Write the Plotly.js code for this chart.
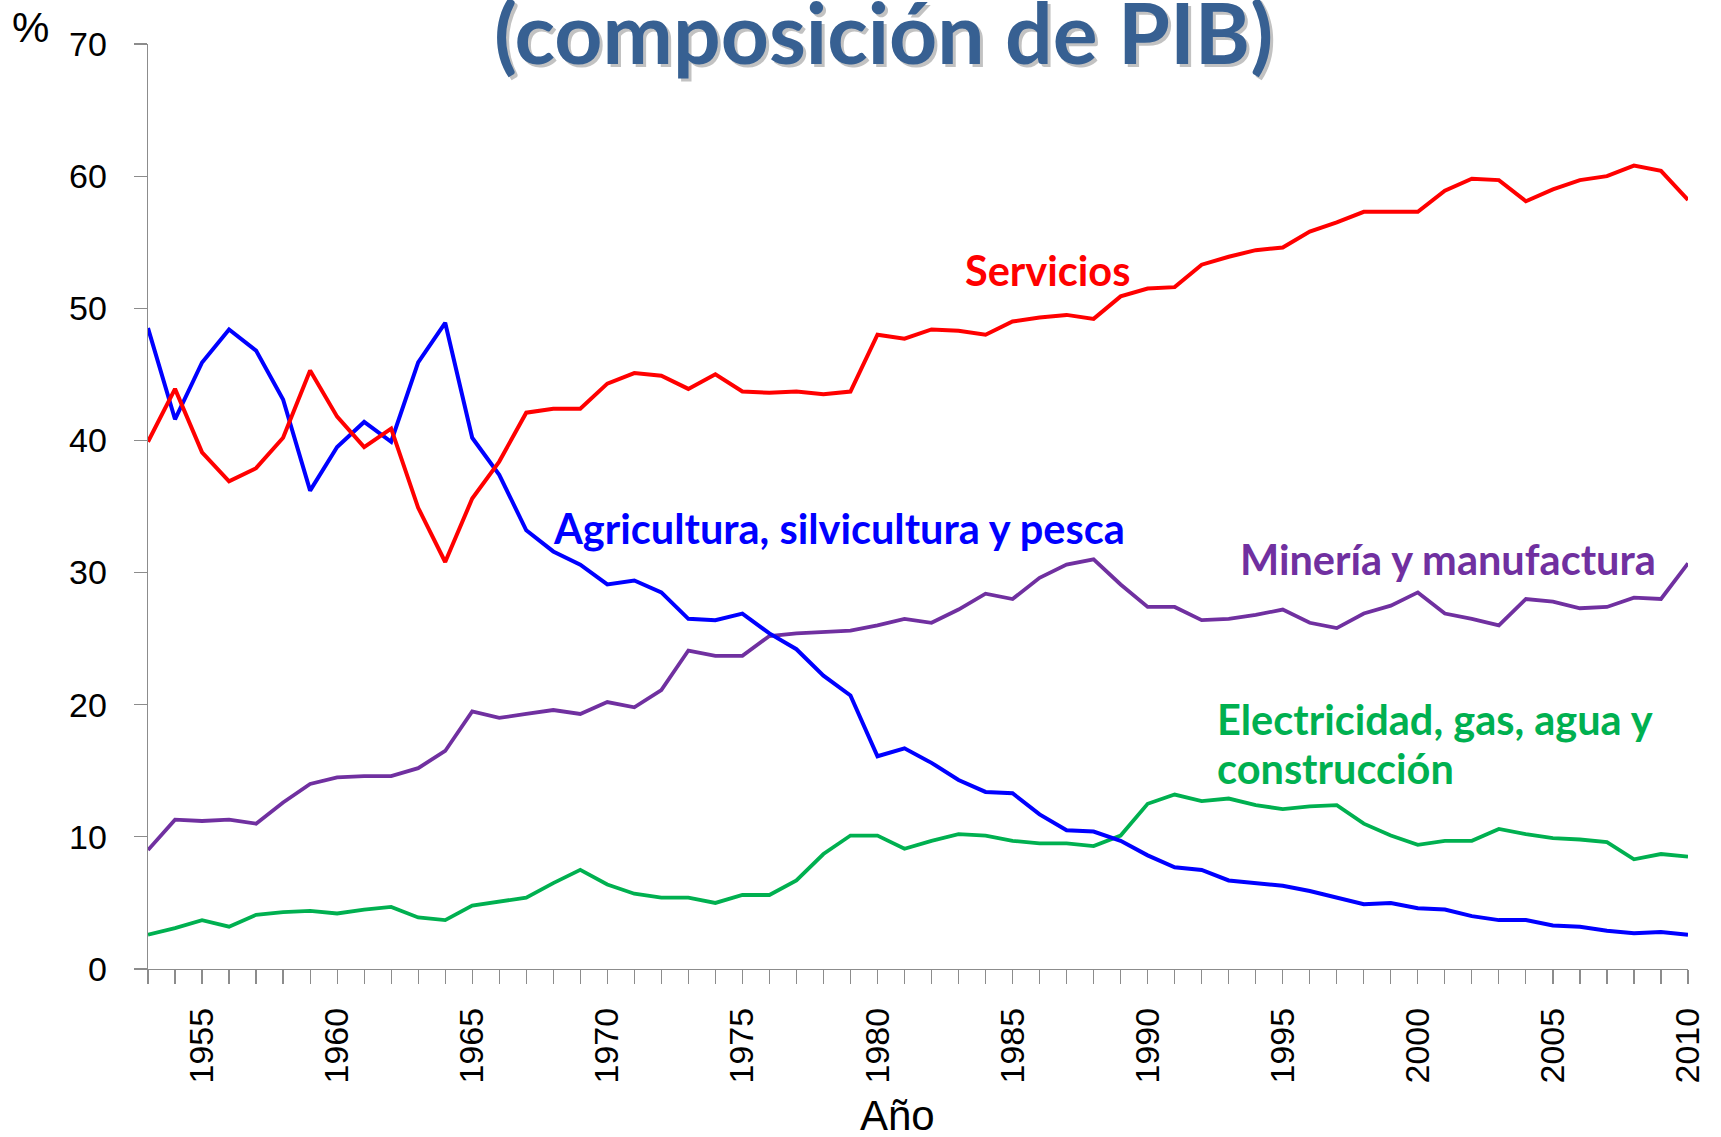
<!DOCTYPE html>
<html>
<head>
<meta charset="utf-8">
<script src="https://cdn.plot.ly/plotly-3.0.1.min.js"></script>
<style>html,body{margin:0;padding:0;background:#fff;}#chart{width:1721px;height:1137px;}</style>
</head>
<body>
<div id="chart"></div>
<script>
const years = [1953,1954,1955,1956,1957,1958,1959,1960,1961,1962,1963,1964,1965,1966,1967,1968,1969,1970,1971,1972,1973,1974,1975,1976,1977,1978,1979,1980,1981,1982,1983,1984,1985,1986,1987,1988,1989,1990,1991,1992,1993,1994,1995,1996,1997,1998,1999,2000,2001,2002,2003,2004,2005,2006,2007,2008,2009,2010];

const agricultura = [48.5,41.6,45.9,48.4,46.8,43.1,36.2,39.5,41.4,39.9,45.9,48.9,40.2,37.4,33.2,31.6,30.6,29.1,29.4,28.5,26.5,26.4,26.9,25.4,24.2,22.2,20.7,16.1,16.7,15.6,14.3,13.4,13.3,11.7,10.5,10.4,9.7,8.6,7.7,7.5,6.7,6.5,6.3,5.9,5.4,4.9,5.0,4.6,4.5,4.0,3.7,3.7,3.3,3.2,2.9,2.7,2.8,2.6];

const servicios = [39.9,43.9,39.1,36.9,37.9,40.2,45.3,41.8,39.5,40.9,34.9,30.8,35.6,38.4,42.1,42.4,42.4,44.3,45.1,44.9,43.9,45.0,43.7,43.6,43.7,43.5,43.7,48.0,47.7,48.4,48.3,48.0,49.0,49.3,49.5,49.2,50.9,51.5,51.6,53.3,53.9,54.4,54.6,55.8,56.5,57.3,57.3,57.3,58.9,59.8,59.7,58.1,59.0,59.7,60.0,60.8,60.4,58.2];

const mineria = [9.0,11.3,11.2,11.3,11.0,12.6,14.0,14.5,14.6,14.6,15.2,16.5,19.5,19.0,19.3,19.6,19.3,20.2,19.8,21.1,24.1,23.7,23.7,25.2,25.4,25.5,25.6,26.0,26.5,26.2,27.2,28.4,28.0,29.6,30.6,31.0,29.1,27.4,27.4,26.4,26.5,26.8,27.2,26.2,25.8,26.9,27.5,28.5,26.9,26.5,26.0,28.0,27.8,27.3,27.4,28.1,28.0,30.7];

const electricidad = [2.6,3.1,3.7,3.2,4.1,4.3,4.4,4.2,4.5,4.7,3.9,3.7,4.8,5.1,5.4,6.5,7.5,6.4,5.7,5.4,5.4,5.0,5.6,5.6,6.7,8.7,10.1,10.1,9.1,9.7,10.2,10.1,9.7,9.5,9.5,9.3,10.1,12.5,13.2,12.7,12.9,12.4,12.1,12.3,12.4,11.0,10.1,9.4,9.7,9.7,10.6,10.2,9.9,9.8,9.6,8.3,8.7,8.5];

const seriesNames = ["Agricultura, silvicultura y pesca","Servicios","Minería y manufactura","Electricidad, gas, agua y construcción"];
const titleText = "(composición de PIB)";
const yAxisLabel = "%";
const xAxisLabel = "Año";

const RED = "#FF0000", BLUE = "#0000FF", PURPLE = "#7030A0", GREEN = "#00B050";
const AXIS = "#8c8c8c";

const traces = [
  {x: years, y: electricidad, name: seriesNames[3], type: "scatter", mode: "lines", line: {color: GREEN, width: 3.8}},
  {x: years, y: mineria, name: seriesNames[2], type: "scatter", mode: "lines", line: {color: PURPLE, width: 3.8}},
  {x: years, y: agricultura, name: seriesNames[0], type: "scatter", mode: "lines", line: {color: BLUE, width: 4}},
  {x: years, y: servicios, name: seriesNames[1], type: "scatter", mode: "lines", line: {color: RED, width: 4}}
];

const labelFont = "Lato, 'Open Sans', sans-serif";
const tickFont = {family: "'Liberation Sans', Arial, sans-serif", size: 34, color: "#000"};
const LS = 41.5;

const layout = {
  width: 1721, height: 1137,
  paper_bgcolor: "#fff", plot_bgcolor: "#fff",
  margin: {l: 148, r: 33, t: 44, b: 168, pad: 0},
  showlegend: false,
  xaxis: {
    range: [1953, 2010], tick0: 1955, dtick: 5,
    ticks: "outside", ticklen: 14, tickcolor: AXIS, tickwidth: 1.2,
    minor: {dtick: 1, tick0: 1953, ticks: "outside", ticklen: 14, tickcolor: AXIS, tickwidth: 1.2, showgrid: false},
    tickangle: -90, tickfont: tickFont, ticklabelstandoff: 10,
    showline: true, linecolor: AXIS, linewidth: 1.3,
    showgrid: false, zeroline: false, fixedrange: true
  },
  yaxis: {
    range: [0, 70], tick0: 0, dtick: 10,
    ticks: "outside", ticklen: 13, tickcolor: AXIS, tickwidth: 1.2,
    tickfont: tickFont, ticklabelstandoff: 20,
    showline: true, linecolor: AXIS, linewidth: 1.3,
    showgrid: false, zeroline: false, fixedrange: true
  },
  annotations: [
    {text: titleText, xref: "paper", yref: "paper", x: 0.4775, y: 0.962, xanchor: "center", yanchor: "bottom", xshift: 3, yshift: -8,
     showarrow: false, font: {family: labelFont, size: 84, color: "rgba(80,80,80,0.35)", weight: "bold"}},
    {text: titleText, xref: "paper", yref: "paper", x: 0.4775, y: 0.962, xanchor: "center", yanchor: "bottom", yshift: -5,
     showarrow: false, font: {family: labelFont, size: 84, color: "#376092", weight: "bold"}},
    {text: yAxisLabel, xref: "paper", yref: "paper", x: -0.0766, y: 1.018, xanchor: "center", yanchor: "middle",
     showarrow: false, font: {family: "'Liberation Sans', Arial, sans-serif", size: 42, color: "#000"}},
    {text: xAxisLabel, xref: "paper", yref: "paper", x: 0.487, y: -0.158, xanchor: "center", yanchor: "middle",
     showarrow: false, font: {family: "'Liberation Sans', Arial, sans-serif", size: 42, color: "#000"}},
    {text: seriesNames[1], xref: "paper", yref: "paper", x: 0.529, y: 0.756, xanchor: "left", yanchor: "middle",
     showarrow: false, font: {family: labelFont, size: LS, color: RED, weight: "bold"}},
    {text: seriesNames[0], xref: "paper", yref: "paper", x: 0.2615, y: 0.4768, xanchor: "left", yanchor: "middle",
     showarrow: false, font: {family: labelFont, size: LS, color: BLUE, weight: "bold"}},
    {text: seriesNames[2], xref: "paper", yref: "paper", x: 0.7078, y: 0.4432, xanchor: "left", yanchor: "middle",
     showarrow: false, font: {family: labelFont, size: LS, color: PURPLE, weight: "bold"}},
    {text: "Electricidad, gas, agua y", xref: "paper", yref: "paper", x: 0.6929, y: 0.2703, xanchor: "left", yanchor: "middle",
     showarrow: false, font: {family: labelFont, size: LS, color: GREEN, weight: "bold"}},
    {text: "construcción", xref: "paper", yref: "paper", x: 0.6929, y: 0.2173, xanchor: "left", yanchor: "middle",
     showarrow: false, font: {family: labelFont, size: LS, color: GREEN, weight: "bold"}}
  ]
};

Plotly.newPlot("chart", traces, layout, {displayModeBar: false, staticPlot: true});
</script>
</body>
</html>
